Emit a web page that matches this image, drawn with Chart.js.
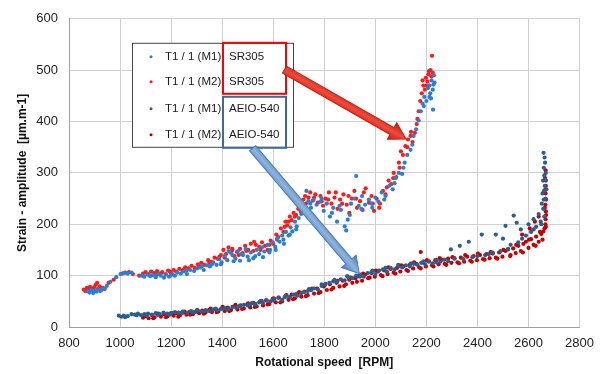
<!DOCTYPE html>
<html>
<head>
<meta charset="utf-8">
<script src="https://cdn.jsdelivr.net/npm/chart.js@4.4.1/dist/chart.umd.min.js"></script>
<style>
  html, body { margin: 0; padding: 0; background: #fff; }
</style>
</head>
<body>
<canvas id="strainChart" width="603" height="374"></canvas>
<script>
// series names as shown in the legend
const seriesLabels = ['T1 / 1 (M1)', 'T1 / 1 (M2)', 'T1 / 1 (M1)', 'T1 / 1 (M2)'];
const engineLabels = ['SR305', 'SR305', 'AEIO-540', 'AEIO-540'];
const seriesColors = ['#2a7fd4', '#ff1a1a', '#2c5d8c', '#c40000'];

// axis ticks
const xTicks = [800, 1000, 1200, 1400, 1600, 1800, 2000, 2200, 2400, 2600, 2800];
const yTicks = [0, 100, 200, 300, 400, 500, 600];

// SR305, measurement M1 : [rpm, strain]
const sr305M1 = [
  [872,70],[880,67],[888,72],[895,66],[902,71],[908,69],[915,74],[922,70],[930,73],[938,75],[948,80],[962,88],[985,97],
  [1002,103],[1015,105],[1030,104],[1045,106],[1085,100],[1095,98],[1108,102],[1118,99],[1128,101],[1140,97],[1150,103],
  [1160,100],[1172,96],[1180,102],[1192,98],[1205,103],[1215,100],[1225,106],[1238,104],[1250,108],[1262,103],[1275,111],
  [1290,109],[1302,114],[1315,116],[1328,111],[1340,120],[1352,118],[1365,126],[1378,121],[1388,132],[1398,126],[1410,138],
  [1420,130],[1432,145],[1440,140],[1452,133],[1462,148],[1470,129],[1482,140],[1492,152],[1500,137],[1512,145],[1522,134],
  [1535,150],[1545,142],[1556,155],[1565,147],[1578,160],[1588,150],[1598,165],[1608,156],[1615,172],[1625,166],[1635,178],
  [1642,162],[1650,185],[1660,178],[1668,194],[1675,186],[1685,205],[1692,196],[1700,212],[1710,220],[1720,235],[1730,265],
  [1738,245],[1748,232],[1758,248],[1770,238],[1785,244],[1798,226],[1810,240],[1822,215],[1835,232],[1850,205],[1865,228],
  [1880,196],[1886,188],[1892,209],[1905,240],[1918,250],[1925,294],[1935,236],[1948,255],[1960,238],[1975,248],[1988,232],
  [2000,252],[2012,244],[2025,262],[2040,255],[2055,275],[2068,268],[2080,290],[2092,300],[2105,298],[2115,320],[2125,335],
  [2138,345],[2150,372],[2160,385],[2170,402],[2178,420],[2185,435],[2192,448],[2200,440],[2205,465],[2210,470],[2215,455],
  [2220,480],[2225,462],[2230,490],[2228,472],[2226,423],[2218,445],
  [1140,100],[1200,101],[1260,110],[1320,118],[1360,122],[1395,122],[1425,148],[1445,128],[1475,142],[1505,130],[1530,138],
  [1560,136],[1585,145],[1610,150],[1640,170],[1665,180],[1690,190],[1715,228],[1745,240],[1790,250],[1830,222],[1860,236],
  [1900,218],[1945,230],[1985,240],[2035,248],[2075,280],[2110,310],[2145,355],[2190,430],[2212,448],[2232,476]
];

// SR305, measurement M2
const sr305M2 = [
  [858,73],[864,70],[870,76],[876,72],[882,78],[888,74],[893,70],[898,77],[904,82],[910,86],[914,75],[920,79],[926,72],
  [932,76],[940,74],[955,86],[975,92],[1008,104],[1020,106],[1035,107],[1050,103],[1075,100],[1090,104],[1100,107],
  [1112,103],[1122,108],[1135,105],[1145,109],[1155,104],[1165,107],[1178,103],[1188,110],[1198,106],[1210,111],[1220,108],
  [1232,113],[1245,110],[1255,116],[1268,114],[1280,119],[1292,115],[1305,122],[1318,125],[1330,121],[1345,130],[1358,127],
  [1370,135],[1382,133],[1395,140],[1405,150],[1415,142],[1425,155],[1438,148],[1448,138],[1458,146],[1470,152],[1480,144],
  [1490,158],[1502,150],[1512,162],[1522,148],[1532,160],[1545,156],[1556,165],[1568,158],[1578,150],[1590,168],[1600,162],
  [1612,180],[1620,175],[1630,192],[1640,185],[1648,205],[1655,198],[1665,215],[1672,208],[1680,222],[1690,218],[1698,230],
  [1708,225],[1718,248],[1728,240],[1738,252],[1745,262],[1755,246],[1765,258],[1775,242],[1785,255],[1795,236],[1805,250],
  [1818,262],[1828,240],[1840,252],[1852,230],[1862,248],[1875,258],[1888,238],[1898,222],[1908,250],[1918,265],[1928,232],
  [1940,245],[1950,228],[1962,270],[1975,242],[1985,255],[1995,226],[2005,250],[2018,240],[2030,265],[2040,258],[2052,285],
  [2062,278],[2072,300],[2082,292],[2092,320],[2100,342],[2108,335],[2118,352],[2128,365],[2138,372],[2146,360],[2155,378],
  [2162,395],[2170,420],[2176,440],[2182,455],[2188,470],[2194,462],[2198,485],[2204,478],[2208,492],[2212,470],[2216,500],
  [2220,488],[2222,528],[2225,495],
  [1140,103],[1195,108],[1250,112],[1310,118],[1350,125],[1390,137],[1410,135],[1440,152],[1465,140],[1495,148],[1525,166],
  [1550,150],[1585,160],[1615,170],[1645,195],[1660,205],[1685,215],[1705,240],[1725,255],[1760,252],[1790,245],[1815,248],
  [1845,262],[1870,240],[1895,255],[1925,250],[1955,262],[1990,240],[2015,232],[2045,272],[2070,290],[2095,310],[2125,350],
  [2140,380],[2165,405],[2185,480],[2200,470],[2210,498]
];

// AEIO-540, measurement M1
const aeioM1 = [
  [995,22],[1005,20],[1015,22],[1030,21],[1045,25],[1058,24],[1070,26],[1082,23],[1095,25],[1110,26],[1125,24],[1140,27],
  [1155,25],[1170,28],[1185,26],[1200,27],[1215,29],[1230,28],[1245,30],[1262,28],[1278,31],[1292,29],[1305,32],[1320,30],
  [1335,33],[1350,31],[1365,34],[1380,33],[1395,35],[1410,37],[1425,36],[1440,39],[1455,38],[1470,41],[1485,43],[1500,42],
  [1515,46],[1530,45],[1545,48],[1560,47],[1575,52],[1590,50],[1605,55],[1620,57],[1635,53],[1650,60],[1665,58],[1680,63],
  [1695,61],[1710,66],[1722,68],[1735,70],[1748,72],[1760,75],[1775,73],[1790,80],[1805,84],[1820,86],[1835,89],[1850,88],
  [1865,93],[1880,91],[1895,96],[1910,95],[1925,100],[1940,102],[1955,98],[1970,105],[1985,107],[2000,103],[2015,110],
  [2030,112],[2045,108],[2060,115],[2075,112],[2090,118],[2105,116],[2120,120],[2135,118],[2150,123],[2165,121],[2180,125],
  [2195,122],[2210,127],[2225,124],[2240,130],[2255,127],[2270,131],[2285,128],[2296,151],[2310,133],[2331,158],[2345,132],
  [2366,166],[2380,136],[2400,138],[2417,180],[2430,140],[2445,142],[2460,145],[2472,180],[2490,148],[2510,197],[2520,152],
  [2530,160],[2542,217],[2554,203],[2560,165],[2575,172],[2590,178],[2600,200],[2610,185],[2620,210],[2630,195],[2640,220],
  [2648,205],[2652,240],[2655,260],[2657,285],[2659,339],[2660,310],[2662,295],[2664,275],[2665,320],[2667,250],[2668,300],
  [2670,268],[2658,230],[2662,215],
  [1020,19],[1065,23],[1105,22],[1150,24],[1195,24],[1240,27],[1285,29],[1330,31],[1375,36],[1420,34],[1465,40],[1510,44],
  [1555,51],[1600,52],[1645,58],[1690,64],[1740,74],[1790,83],[1840,92],[1890,99],[1940,98],[1990,110],[2040,115],[2090,121],
  [2140,124],[2190,128],[2240,126],[2500,172],[2570,190],[2620,190],[2650,200],[2661,265],[2663,330],[2666,287],[2660,248]
];

// AEIO-540, measurement M2
const aeioM2 = [
  [1090,18],[1100,21],[1112,17],[1125,23],[1135,19],[1148,24],[1160,20],[1172,25],[1185,21],[1198,26],[1210,22],[1222,27],
  [1235,23],[1248,28],[1260,24],[1272,29],[1285,25],[1298,30],[1310,27],[1322,32],[1335,28],[1348,33],[1360,29],[1372,35],
  [1385,30],[1398,36],[1410,31],[1422,38],[1435,33],[1448,40],[1460,34],[1472,42],[1485,36],[1498,44],[1510,38],[1522,47],
  [1535,40],[1548,49],[1560,42],[1572,52],[1585,45],[1598,55],[1610,48],[1622,57],[1635,50],[1648,60],[1660,53],[1672,63],
  [1685,56],[1698,66],[1710,59],[1722,69],[1735,62],[1748,72],[1760,65],[1772,75],[1785,68],[1798,79],[1810,72],[1822,83],
  [1835,76],[1848,86],[1860,79],[1872,90],[1885,83],[1898,92],[1910,86],[1922,95],[1935,99],[1948,90],[1960,102],[1972,95],
  [1985,105],[1998,98],[2010,108],[2022,101],[2035,110],[2048,103],[2060,113],[2072,106],[2085,115],[2098,108],[2110,118],
  [2122,111],[2135,121],[2148,114],[2160,123],[2172,116],[2178,146],[2185,126],[2198,118],[2210,128],[2222,120],[2235,130],
  [2248,122],[2260,131],[2272,123],[2285,133],[2298,125],[2310,134],[2322,126],[2335,135],[2348,127],[2360,137],[2372,129],
  [2385,138],[2398,130],[2410,140],[2422,132],[2435,142],[2448,134],[2460,143],[2472,135],[2485,145],[2498,137],[2510,148],
  [2520,151],[2530,140],[2540,153],[2550,144],[2560,158],[2570,148],[2580,162],[2590,166],[2600,154],[2610,171],[2620,160],
  [2630,176],[2640,166],[2650,181],[2658,186],[2663,192],[2666,200],[2667,210],[2668,225],[2666,238],[2669,248],[2667,260],
  [2668,275],[2665,290],[2667,305],[2605,192],[2625,205],[2640,215],[2575,180],
  [1105,24],[1130,17],[1150,26],[1180,19],[1205,27],[1228,20],[1252,30],[1275,24],[1302,33],[1328,26],[1355,36],[1378,29],
  [1402,39],[1428,31],[1452,43],[1478,35],[1502,46],[1528,39],[1552,51],[1578,44],[1602,56],[1628,48],[1652,62],[1678,54],
  [1702,68],[1728,60],[1752,75],[1778,66],[1802,82],[1828,73],[1852,90],[1878,80],[1902,96],[1928,88],[1952,104],[1978,96],
  [2002,110],[2028,99],[2052,116],[2078,104],[2102,120],[2128,109],[2152,126],[2178,114],[2202,130],[2228,118],[2252,134],
  [2278,121],[2302,136],[2328,124],[2352,140],[2378,127],[2402,143],[2428,131],[2452,146],[2478,133],[2502,150],[2528,138],
  [2552,160],[2578,145],[2602,170],[2628,158],[2645,185],[2655,170],[2668,195],[2669,218],[2666,268],[2668,285],[2664,232]
];

// annotation arrows, in data units: [start, end]
const redArrow = [[1644, 501], [2120, 366]];
const blueArrow = [[1519, 348], [1937, 104]];

const allSeries = [sr305M1, sr305M2, aeioM1, aeioM2];

function drawArrow(ctx, x1, y1, x2, y2, light, dark) {
  const ang = Math.atan2(y2 - y1, x2 - x1);
  const len = Math.hypot(x2 - x1, y2 - y1);
  const shaft = 8, head = 19, headLen = 16;
  ctx.save();
  ctx.translate(x1, y1);
  ctx.rotate(ang);
  ctx.beginPath();
  ctx.moveTo(0, -shaft / 2);
  ctx.lineTo(len - headLen, -shaft / 2);
  ctx.lineTo(len - headLen, -head / 2);
  ctx.lineTo(len, 0);
  ctx.lineTo(len - headLen, head / 2);
  ctx.lineTo(len - headLen, shaft / 2);
  ctx.lineTo(0, shaft / 2);
  ctx.closePath();
  const g = ctx.createLinearGradient(0, -head / 2, 0, head / 2);
  g.addColorStop(0, dark);
  g.addColorStop(0.5, light);
  g.addColorStop(1, dark);
  ctx.fillStyle = g;
  ctx.fill();
  ctx.strokeStyle = dark;
  ctx.lineWidth = 1;
  ctx.stroke();
  ctx.restore();
}

const overlay = {
  id: 'overlay',
  afterDatasetsDraw(chart) {
    const { ctx, chartArea, scales: { x, y } } = chart;
    const L = chartArea.left, T = chartArea.top;

    // legend box
    ctx.save();
    ctx.fillStyle = '#fff';
    ctx.fillRect(L + 63.5, T + 24.5, 161, 104);
    ctx.strokeStyle = '#444';
    ctx.lineWidth = 1;
    ctx.strokeRect(L + 63.5, T + 24.5, 161, 104);

    ctx.font = '11.5px "Liberation Sans", Arial, sans-serif';
    ctx.textBaseline = 'middle';
    const rows = [38, 63, 90, 116];
    chart.data.datasets.forEach((ds, i) => {
      const ry = T + rows[i];
      ctx.fillStyle = ds.backgroundColor;
      ctx.beginPath();
      ctx.arc(L + 82, ry, 1.5, 0, Math.PI * 2);
      ctx.fill();
      ctx.fillStyle = '#1a1a1a';
      ctx.fillText(seriesLabels[i], L + 96, ry);
      ctx.fillText(engineLabels[i], L + 160, ry);
    });

    // highlight frames round the engine names
    ctx.lineWidth = 2;
    ctx.strokeStyle = '#ff0000';
    ctx.strokeRect(L + 154, T + 24, 63, 51);
    ctx.strokeStyle = '#3c6a9c';
    ctx.strokeRect(L + 154, T + 78, 63, 51);
    ctx.restore();

    drawArrow(ctx,
      x.getPixelForValue(redArrow[0][0]), y.getPixelForValue(redArrow[0][1]),
      x.getPixelForValue(redArrow[1][0]), y.getPixelForValue(redArrow[1][1]),
      '#f04a3a', '#c41a10');
    drawArrow(ctx,
      x.getPixelForValue(blueArrow[0][0]), y.getPixelForValue(blueArrow[0][1]),
      x.getPixelForValue(blueArrow[1][0]), y.getPixelForValue(blueArrow[1][1]),
      '#8db4e0', '#4a7bb3');
  }
};

const ctx = document.getElementById('strainChart').getContext('2d');
new Chart(ctx, {
  type: 'scatter',
  data: {
    datasets: allSeries.map((pts, i) => ({
      label: seriesLabels[i] + ' ' + engineLabels[i],
      data: pts.map(p => ({ x: p[0], y: p[1] })),
      backgroundColor: seriesColors[i],
      borderWidth: 0,
      pointRadius: 2.1,
      pointHoverRadius: 2.1
    }))
  },
  options: {
    responsive: false,
    animation: false,
    devicePixelRatio: 1,
    layout: { padding: { top: 17, right: 22, left: 0, bottom: 0 } },
    plugins: { legend: { display: false }, tooltip: { enabled: false } },
    scales: {
      x: {
        type: 'linear',
        min: 800, max: 2800,
        afterBuildTicks: s => { s.ticks = xTicks.map(v => ({ value: v })); },
        afterFit: s => { s.height = 47; },
        grid: { color: '#d0d0d0', drawTicks: false },
        border: { color: '#a0a0a0' },
        ticks: {
          padding: 9, color: '#222', font: { family: '"Liberation Sans", Arial', size: 13 },
          callback: v => String(v)
        },
        title: {
          display: true, text: 'Rotational speed  [RPM]', color: '#111',
          font: { family: '"Liberation Sans", Arial', size: 12, weight: 'bold' },
          padding: { top: 0, bottom: 4 }
        }
      },
      y: {
        min: 0, max: 600,
        afterBuildTicks: s => { s.ticks = yTicks.map(v => ({ value: v })); },
        afterFit: s => { s.width = 69; },
        grid: { color: '#d0d0d0', drawTicks: false },
        border: { color: '#a0a0a0' },
        ticks: {
          padding: 11, color: '#222', font: { family: '"Liberation Sans", Arial', size: 13 },
          callback: v => String(v)
        },
        title: {
          display: true, text: 'Strain - amplitude  [µm.m-1]', color: '#111',
          font: { family: '"Liberation Sans", Arial', size: 12, weight: 'bold' },
          padding: { top: 15, bottom: 0 }
        }
      }
    }
  },
  plugins: [overlay]
});
</script>
</body>
</html>
